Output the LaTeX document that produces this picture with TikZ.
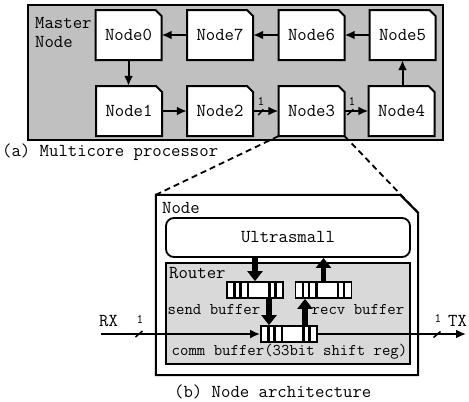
\documentclass[tikz,border=0pt]{standalone}
\usepackage{fontspec}
\usetikzlibrary{arrows.meta,calc}
\definecolor{outergray}{RGB}{192,192,192}
\definecolor{routergray}{RGB}{217,217,217}
\newcommand\cutnode[4]{%
  \filldraw[nodeline] (#2-33,#3+25) -- (#2-33,#3-25) -- (#2+27,#3-25) -- (#2+33,#3-19) -- (#2+33,#3+25) -- cycle;
  \node[ntext] (#1) at (#2,#3) {#4};
}
\begin{document}
\begin{tikzpicture}[x=1bp,y=-1bp,
  big/.style={font=\ttfamily\fontsize{18.3}{19.5}\selectfont},
  small/.style={font=\ttfamily\fontsize{16.4}{17}\selectfont},
  one/.style={font=\ttfamily\fontsize{13}{14}\selectfont, inner sep=0pt, anchor=base},
  nodeline/.style={draw=black, fill=white, line width=2bp, line join=miter},
  ntext/.style={big, minimum width=66bp, minimum height=50bp, inner sep=0pt},
  arr/.style={line width=2bp, -{Latex[length=10bp,width=9bp]}},
  slash/.style={line width=1.5bp},
  thk/.style={line width=5.5bp, -{Triangle[width=15bp,length=10bp]}},
  buf/.style={draw, fill=white, line width=1.8bp, minimum width=56bp, minimum height=16bp, inner sep=0pt,
    path picture={
      \foreach \o in {7.5,13.5,21,42.5,48.5}
        \draw[line width=2.3bp] ([xshift=\o bp]path picture bounding box.south west) -- ([xshift=\o bp]path picture bounding box.north west);
      \foreach \d in {1.5,3.5,5.5}
        \fill ([xshift=\d bp,yshift=1.5bp]path picture bounding box.center) circle[radius=0.75bp];
    }},
  lbl/.style={inner sep=0pt}
]
\useasboundingbox (0,0) rectangle (469,401);

% (a) multicore processor
\filldraw[fill=outergray, draw=black, line width=2.5bp] (28,5) rectangle (443,140);
\node[big, lbl, anchor=north west, align=left] (master) at (35,17) {Master\\Node};

\cutnode{n0}{128.5}{35}{Node0}
\cutnode{n7}{220}{35}{Node7}
\cutnode{n6}{311.5}{35}{Node6}
\cutnode{n5}{402.5}{35}{Node5}
\cutnode{n1}{129}{111}{Node1}
\cutnode{n2}{220}{111}{Node2}
\cutnode{n3}{311.5}{111}{Node3}
\cutnode{n4}{401.5}{111}{Node4}

\draw[arr] (n5.west) -- (n6.east);
\draw[arr] (n6.west) -- (n7.east);
\draw[arr] (n7.west) -- (n0.east);
\draw[arr] (n0.south) -- (n0.south |- n1.north);
\draw[arr] (n1.east) -- (n2.west);
\draw[arr] (n2.east) -- (n3.west);
\draw[arr] (n3.east) -- (n4.west);
\draw[arr] (n4.north -| n5.south) -- (n5.south);

\draw[slash] (258.3,115) -- (263.3,109.3);
\node[one] (w23) at (261,105) {1};
\draw[slash] (347.3,115) -- (353.3,109.3);
\node[one] (w34) at (352,105) {1};

\node[big, lbl, anchor=base west] (capa) at (2,156) {(a) Multicore processor};

% (b) node architecture
\node[minimum width=262bp, minimum height=180bp, inner sep=0pt] (nb) at (287,285) {};
\coordinate (nbc) at ([yshift=-18bp]nb.north east);
\draw[line width=2bp, line join=miter] (nb.south west) -- (nb.north west) -- ([xshift=-18bp]nb.north east) -- (nbc) -- (nb.south east) -- cycle;

\draw[line width=1.8bp, dash pattern=on 6bp off 4bp] (n3.south west) -- (nb.north west);
\draw[line width=1.8bp, dash pattern=on 6bp off 4bp] (n3.south east) -- (nbc);

\node[big, lbl, anchor=base west] (nbl) at (162,213) {Node};

\node[draw, rounded corners=8bp, line width=1.8bp, minimum width=244bp, minimum height=39bp, big] (us) at (288,237.5) {Ultrasmall};

\node[draw, fill=routergray, line width=1.8bp, minimum width=244bp, minimum height=101bp, inner sep=0pt] (rt) at (288,313.5) {};
\node[big, lbl, anchor=base west] (rtl) at (169,278) {Router};

\node[buf] (sb) at (255,290) {};
\node[buf] (rb) at (323.5,290) {};
\node[buf] (cb) at (289,334) {};

\node[small, lbl] (sbl) at (214,309) {send buffer};
\node[small, lbl] (rbl) at (358,309) {recv buffer};
\node[small, lbl, anchor=base] (cbl) at (289.5,355) {comm buffer(33bit shift reg)};

\coordinate (xa) at (269,0);
\coordinate (xb) at (305,0);
\draw[thk] (us.south -| sb.north) -- (sb.north);
\draw[thk] (rb.north) -- (us.south -| rb.north);
\draw[thk] (sb.south -| xa) -- (cb.north -| xa);
\draw[thk] (cb.north -| xb) -- (rb.south -| xb);

\coordinate (rx) at (101,334);
\coordinate (tx) at (466,334);
\draw[arr] (rx) -- (cb.west);
\draw[arr] (cb.east) -- (tx);
\node[big, lbl, anchor=base west] (rxl) at (99,326) {RX};
\node[big, lbl, anchor=base west] (txl) at (448,326) {TX};
\draw[slash] (135.5,337) -- (142.5,331);
\node[one] (wrx) at (140,323) {1};
\draw[slash] (433.5,337.5) -- (440.5,331.5);
\node[one] (wtx) at (438,322) {1};

\node[big, lbl, anchor=base west] (capb) at (174,397) {(b) Node architecture};
\end{tikzpicture}
\end{document}
